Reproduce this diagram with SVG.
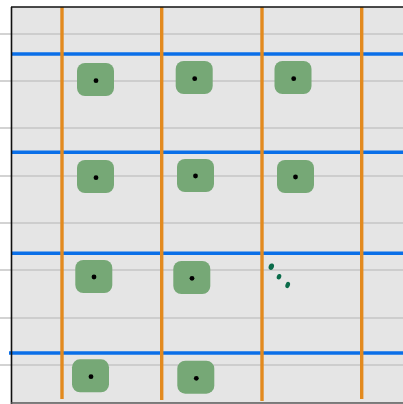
<svg xmlns="http://www.w3.org/2000/svg" width="403" height="404" viewBox="0 0 403 404">
<style>
.grid{stroke:#c4c4c4;stroke-width:1.5}
.blue{stroke:#0a6fe8;stroke-width:3.4}
.orange{stroke:#e38a1e;stroke-width:3.4}
.box{fill:#76a876}
.dot{fill:#000}
.pt{fill:#0b6b4a}
</style>
<rect x="0" y="0" width="403" height="404" fill="#fff"/>
<rect x="11.5" y="7" width="391.5" height="396" fill="#e5e5e5"/>
<g id="grid">
<line class="grid" x1="0" y1="34" x2="403" y2="34"/>
<line class="grid" x1="0" y1="81" x2="403" y2="81"/>
<line class="grid" x1="0" y1="128" x2="403" y2="128"/>
<line class="grid" x1="0" y1="176" x2="403" y2="176"/>
<line class="grid" x1="0" y1="223" x2="403" y2="223"/>
<line class="grid" x1="0" y1="270" x2="403" y2="270"/>
<line class="grid" x1="0" y1="318" x2="403" y2="318"/>
<line class="grid" x1="0" y1="365" x2="403" y2="365"/>
</g>
<g id="connectors">
<line class="blue" x1="12" y1="54" x2="403" y2="54"/>
<line class="blue" x1="12" y1="152.3" x2="403" y2="152.3"/>
<line class="blue" x1="12" y1="253.3" x2="403" y2="253.3"/>
<line class="blue" x1="9" y1="353" x2="403" y2="353"/>
<line class="orange" x1="62" y1="7" x2="62" y2="399"/>
<line class="orange" x1="161.7" y1="7" x2="161.7" y2="400"/>
<line class="orange" x1="262" y1="7" x2="262" y2="401"/>
<line class="orange" x1="361.7" y1="7" x2="361.7" y2="399"/>
</g>
<g id="n1"><rect class="box" x="77" y="63" width="37" height="33" rx="8"/><circle class="dot" cx="96" cy="80.7" r="2.4"/></g>
<g id="n2"><rect class="box" x="175.7" y="61" width="37" height="33" rx="8"/><circle class="dot" cx="194.7" cy="78.7" r="2.4"/></g>
<g id="n3"><rect class="box" x="274.5" y="61" width="37" height="33" rx="8"/><circle class="dot" cx="293.7" cy="78.7" r="2.4"/></g>
<g id="n4"><rect class="box" x="77" y="160" width="37" height="33" rx="8"/><circle class="dot" cx="96" cy="177.7" r="2.4"/></g>
<g id="n5"><rect class="box" x="177" y="159" width="37" height="33" rx="8"/><circle class="dot" cx="195.5" cy="176" r="2.4"/></g>
<g id="n6"><rect class="box" x="277" y="160" width="37" height="33" rx="8"/><circle class="dot" cx="295.5" cy="177" r="2.4"/></g>
<g id="n7"><rect class="box" x="75.3" y="260" width="37" height="33" rx="8"/><circle class="dot" cx="94" cy="277" r="2.4"/></g>
<g id="n8"><rect class="box" x="173.3" y="261" width="37" height="33" rx="8"/><circle class="dot" cx="192" cy="278.3" r="2.4"/></g>
<g id="n9"><ellipse class="pt" cx="271.3" cy="266.7" rx="2.6" ry="3.3" transform="rotate(20 271.3 266.7)"/><ellipse class="pt" cx="279" cy="276.7" rx="2.2" ry="2.8" transform="rotate(20 279 276.7)"/><ellipse class="pt" cx="287.7" cy="285" rx="2.2" ry="3.2" transform="rotate(20 287.7 285)"/></g>
<g id="n10"><rect class="box" x="72" y="359.3" width="37" height="33" rx="8"/><circle class="dot" cx="91" cy="376.7" r="2.4"/></g>
<g id="n11"><rect class="box" x="177.3" y="360.7" width="37" height="33" rx="8"/><circle class="dot" cx="196.3" cy="378.3" r="2.4"/></g>
<g id="frame">
<line x1="11.5" y1="7" x2="11.5" y2="404" stroke="#111" stroke-width="1.6"/>
<line x1="11" y1="7" x2="403" y2="7" stroke="#111" stroke-width="1.6"/>
<line x1="11" y1="403" x2="403" y2="403" stroke="#555" stroke-width="1.4"/>
</g>
</svg>
